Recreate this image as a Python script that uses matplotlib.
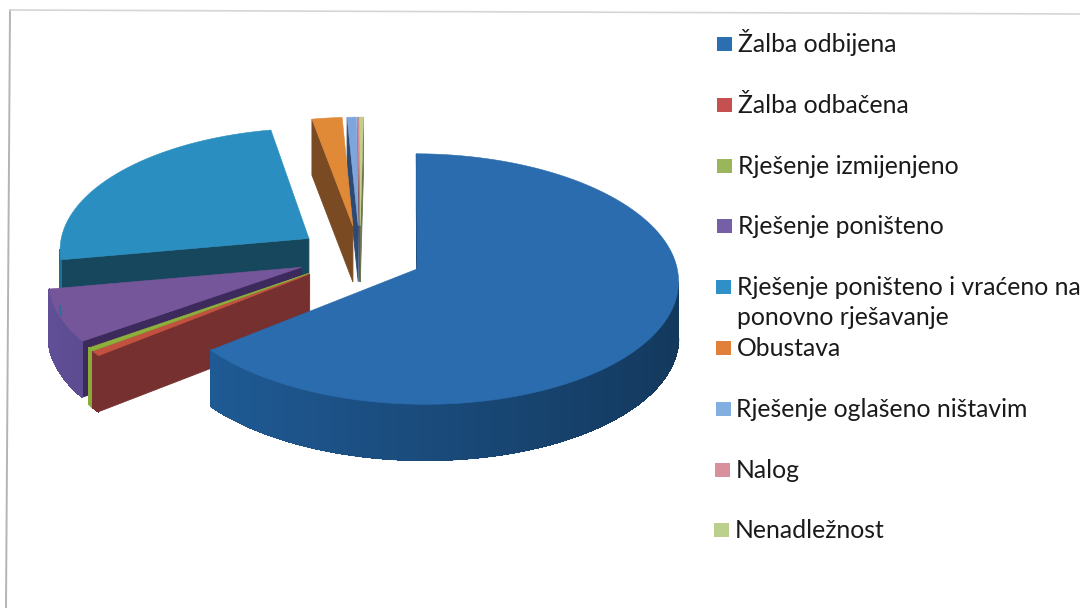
import numpy as np
import matplotlib
matplotlib.use("Agg")
import matplotlib.pyplot as plt
from matplotlib.collections import LineCollection
from matplotlib.patches import Polygon, Rectangle

# Share of each outcome in percent
labels = [
    "Žalba odbijena",
    "Žalba odbačena",
    "Rješenje izmijenjeno",
    "Rješenje poništeno",
    "Rješenje poništeno i vraćeno na\nponovno rješavanje",
    "Obustava",
    "Rješenje oglašeno ništavim",
    "Nalog",
    "Nenadležnost",
]
values = [64.0, 0.6, 0.4, 6.95, 24.95, 2.1, 0.65, 0.05, 0.3]

top_colors = ["#2a6cae", "#c4503f", "#8fb13c", "#75569a", "#2a8fc0", "#e08a38", "#7ea6dc", "#d58a98", "#c4cf8a"]
cut_colors = ["#1d4c7c", "#75302f", "#7fa035", "#3d2a5c", "#17475c", "#7a4a22", "#2c4a72", "#7a4a50", "#6f7550"]
rim_colors = ["#1f5a94", "#75302f", "#8aa838", "#5c4b90", "#1d6a8c", "#a0622a", "#4a72a8", "#a05a68", "#8f9860"]
legend_colors = ["#2a70b0", "#c4504f", "#9bb55a", "#7560a8", "#2f90c8", "#e0803a", "#82aee0", "#d8909c", "#bcd08e"]

# Legend positions in pixels, the scan is slightly rotated
legend_x = [717, 717, 716.5, 716.5, 716, 716, 715.5, 715, 714]
legend_y = [44, 105, 166, 226, 287, 348, 409, 469.5, 530]

# Pie layout in pixels
CX, CY = 360, 255.5
RX, RY = 254, 122
EXPLODE = 0.248
DEPTH = 56
PERSPECTIVE = 0.08
PERSPECTIVE_X = 0.01
FIRST_ANGLE = 0.8
LINE_STEP = 30


def project(x, y):
    s = 1 / (1 - PERSPECTIVE * y - PERSPECTIVE_X * x)
    return CX + RX * x * s, CY + RY * y * s


def shade(color, amount):
    rgb = np.array(matplotlib.colors.to_rgb(color))
    return np.clip(rgb * amount, 0, 1)


def draw_slice(ax, start, end, i):
    # angles run clockwise from 12 o'clock, in degrees
    mid = np.radians((start + end) / 2)
    ox, oy = EXPLODE * np.sin(mid), -EXPLODE * np.cos(mid)
    theta = np.radians(np.linspace(start, end, max(int(end - start), 2) + 1))
    apex = project(ox, oy)
    rim = [project(ox + np.sin(t), oy - np.cos(t)) for t in theta]

    def wall(p0, p1, color, smooth=True):
        # seen only if the edge runs right to left in a clockwise walk
        if p1[0] >= p0[0]:
            return False
        pts = [p0, p1, (p1[0], p1[1] + DEPTH), (p0[0], p0[1] + DEPTH)]
        ax.add_patch(Polygon(pts, closed=True, fc=color, ec=color, lw=0.6, antialiased=smooth))
        return True

    wall(apex, rim[0], cut_colors[i])
    wall(rim[-1], apex, cut_colors[i])

    segs, cols = [], []
    for k in range(len(rim) - 1):
        # rim goes from lighter on the left to darker on the right
        facing = np.sin((theta[k] + theta[k + 1]) / 2)
        col = shade(rim_colors[i], 0.835 - 0.215 * facing)
        if wall(rim[k], rim[k + 1], col, smooth=False):
            segs.append([(rim[k][0], rim[k][1] + DEPTH), (rim[k + 1][0], rim[k + 1][1] + DEPTH)])
            cols.append(col)
    if segs:
        ax.add_collection(LineCollection(segs, colors=cols, linewidths=1.0))

    ax.add_patch(Polygon([apex] + rim, closed=True, fc=top_colors[i], ec=top_colors[i], lw=0.4))


fig = plt.figure(figsize=(10.8, 6.08), dpi=100)
ax = fig.add_axes([0, 0, 1, 1])
ax.set_xlim(0, 1080)
ax.set_ylim(608, 0)
ax.axis("off")

# Scan frame, only left and top are visible
ax.plot([6, 10], [608, 10], color="#b4b4b4", lw=1.4)
ax.plot([10, 1080], [10, 14], color="#d8d4d8", lw=1.2)

edges = np.concatenate([[0], np.cumsum(values)]) / np.sum(values) * 360 + FIRST_ANGLE
# Painted from the back of the pie to the front
for i in [8, 7, 6, 5, 4, 3, 2, 1, 0]:
    draw_slice(ax, edges[i], edges[i + 1], i)

for label, color, x, y in zip(labels, legend_colors, legend_x, legend_y):
    ax.add_patch(Rectangle((x, y - 7), 15, 14, fc=color, ec="none"))
    for n, line in enumerate(label.split("\n")):
        ax.text(x + 21, y + 8 + n * LINE_STEP, line, fontsize=17.8, family="Lato",
                color="#1a1a1a", va="baseline", ha="left")

fig.savefig("out.png", dpi=100)
